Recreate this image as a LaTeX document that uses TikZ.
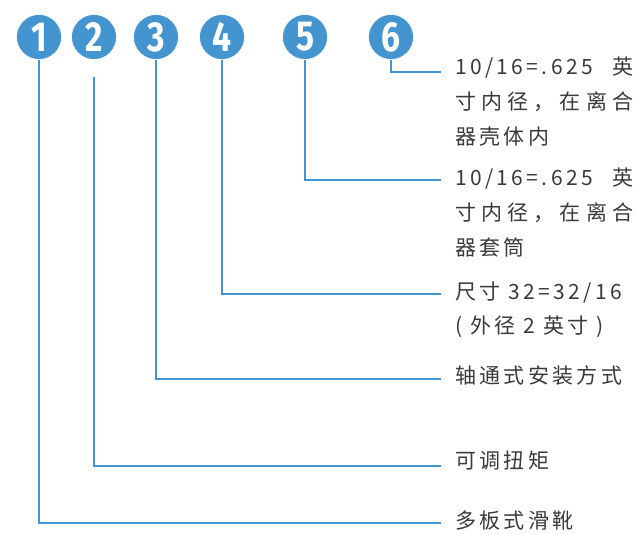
\documentclass[tikz,border=0pt]{standalone}
\usepackage{fontspec}
\setmainfont{Noto Sans CJK SC}[LetterSpace=16]
\newfontfamily\numfont{Fira Sans}
\definecolor{cblue}{HTML}{4494D0}
\definecolor{ctext}{HTML}{3A3A3A}
\tikzset{
  num/.style={circle,fill=cblue,draw=white,line width=0.6pt,minimum size=45pt,inner sep=0pt,text=white,
    font={\numfont\bfseries\fontsize{42}{42}\selectfont}},
  conn/.style={draw=cblue,line width=2pt},
  lbl/.style={anchor=base west,inner sep=0pt,text=ctext,
    font={\fontsize{21}{35}\selectfont}}
}
\newcommand{\numtxt}[1]{\scalebox{0.8}[1]{#1}}
\newcommand{\lines}[2]{\vtop{\baselineskip=#1pt\lineskiplimit=-100pt #2}}
\begin{document}
\begin{tikzpicture}[x=1pt,y=-1pt]
\useasboundingbox (0,0) rectangle (639,534);
\node[num] (n1) at (39,37) {\numtxt{1}};
\node[num] (n2) at (94,37) {\numtxt{2}};
\node[num] (n3) at (156,37) {\numtxt{3}};
\node[num] (n4) at (222,37) {\numtxt{4}};
\node[num] (n5) at (305,37) {\numtxt{5}};
\node[num] (n6) at (391,37) {\numtxt{6}};

\node[lbl] (t6) at (455,75) {\lines{35}{\hbox to 178pt{10/16=.625\hfill 英}\hbox to 178pt{寸\hfill 内\hfill 径\hfill ，\hfill 在\hfill 离\hfill 合}\hbox{器壳体内}}};
\node[lbl] (t5) at (455,186) {\lines{35}{\hbox to 178pt{10/16=.625\hfill 英}\hbox to 178pt{寸\hfill 内\hfill 径\hfill ，\hfill 在\hfill 离\hfill 合}\hbox{器套筒}}};
\node[lbl] (t4) at (455,299) {\lines{34}{\hbox{尺寸 32=32/16}\hbox{( 外径 2 英寸 )}}};
\node[lbl] (t3) at (455,383) {轴通式安装方式};
\node[lbl] (t2) at (455,468) {可调扭矩};
\node[lbl] (t1) at (455,528) {多板式滑靴};

\coordinate (e6) at (441,72);
\coordinate (e5) at (441,180);
\coordinate (e4) at (441,294);
\coordinate (e3) at (441,379);
\coordinate (e2) at (441,466);
\coordinate (e1) at (441,523);
\coordinate (s2) at (94,77);

\draw[conn] (n1.south) |- (e1);
\draw[conn] (s2) |- (e2);
\draw[conn] (n3.south) |- (e3);
\draw[conn] (n4.south) |- (e4);
\draw[conn] (n5.south) |- (e5);
\draw[conn] (n6.south) |- (e6);
\end{tikzpicture}
\end{document}
